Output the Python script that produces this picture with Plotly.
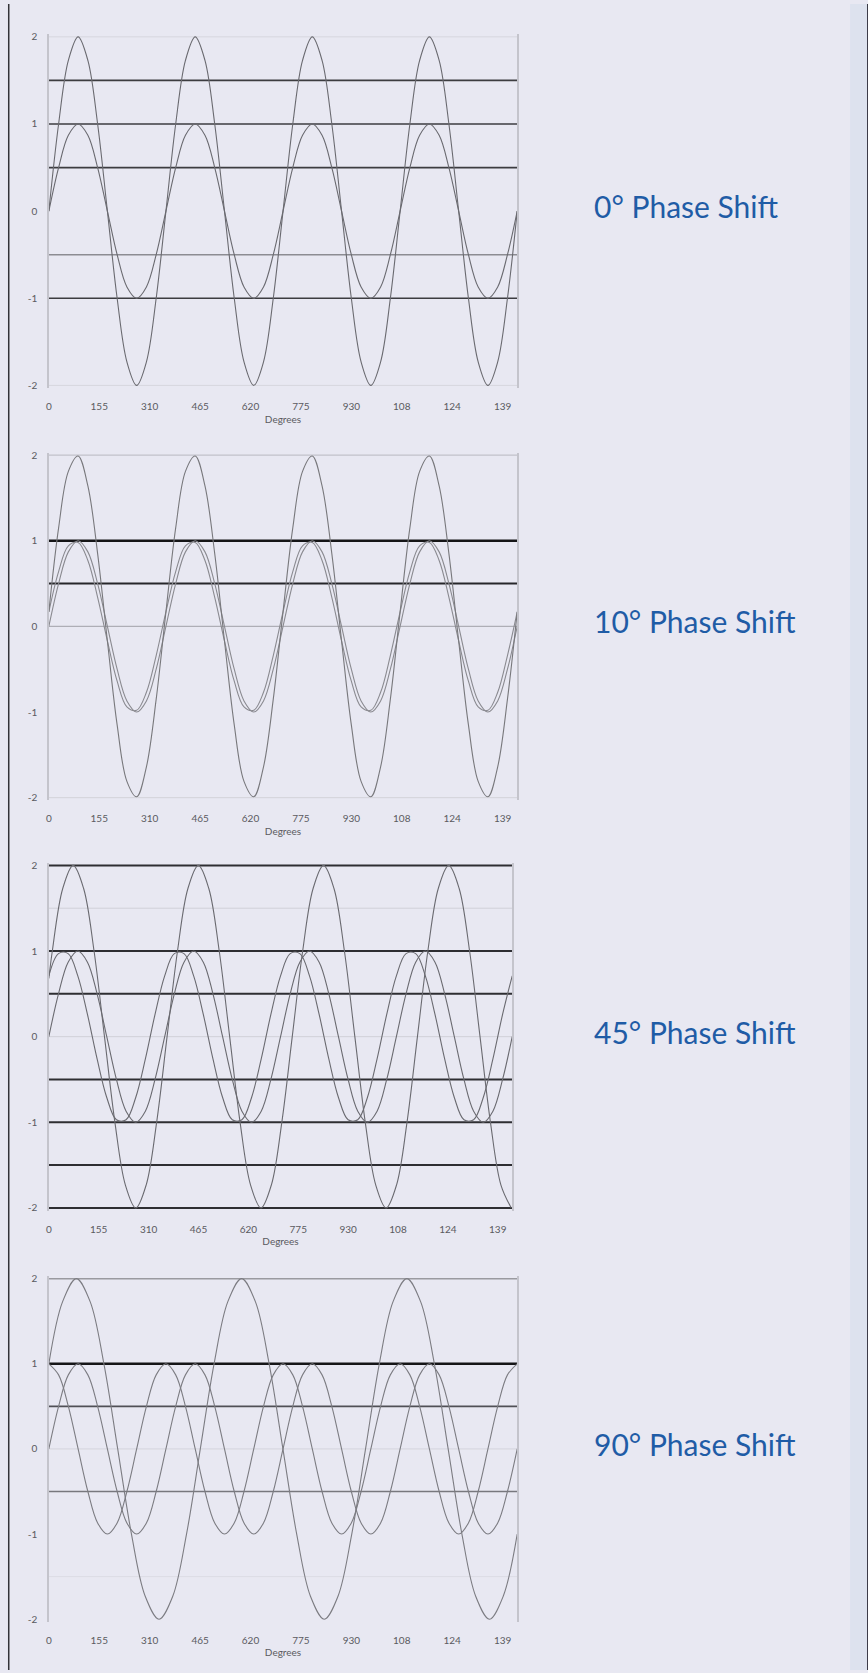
import plotly.graph_objects as go

W, H = 868, 1673

# ---------------- data ----------------
X_TICKS = [0, 155, 310, 465, 620, 775, 930, 1085, 1240, 1395]
X_TICK_TEXT = ["0", "155", "310", "465", "620", "775", "930", "108", "124", "139"]
Y_TICKS = [-2, -1, 0, 1, 2]
Y_TICK_TEXT = ["-2", "-1", "0", "1", "2"]

LABELS = ["0° Phase Shift", "10° Phase Shift", "45° Phase Shift", "90° Phase Shift"]

# sample positions (degrees) for the regular 360° waves
X30 = [0, 30, 60, 90, 120, 150, 180, 210, 240, 270, 300, 330,
       360, 390, 420, 450, 480, 510, 540, 570, 600, 630, 660, 690,
       720, 750, 780, 810, 840, 870, 900, 930, 960, 990, 1020, 1050,
       1080, 1110, 1140, 1170, 1200, 1230, 1260, 1290, 1320, 1350, 1380, 1410,
       1440]

# unit sine, 0° phase
WAVE_0 = [0, .5, .87, 1, .87, .5, 0, -.5, -.87, -1, -.87, -.5,
          0, .5, .87, 1, .87, .5, 0, -.5, -.87, -1, -.87, -.5,
          0, .5, .87, 1, .87, .5, 0, -.5, -.87, -1, -.87, -.5,
          0, .5, .87, 1, .87, .5, 0, -.5, -.87, -1, -.87, -.5,
          0]
# sum wave for 0° shift (amplitude 2)
SUM_0 = [0, 1, 1.73, 2, 1.73, 1, 0, -1, -1.73, -2, -1.73, -1,
         0, 1, 1.73, 2, 1.73, 1, 0, -1, -1.73, -2, -1.73, -1,
         0, 1, 1.73, 2, 1.73, 1, 0, -1, -1.73, -2, -1.73, -1,
         0, 1, 1.73, 2, 1.73, 1, 0, -1, -1.73, -2, -1.73, -1,
         0]
# unit sine shifted 10°
WAVE_10 = [.17, .64, .94, .98, .77, .34, -.17, -.64, -.94, -.98, -.77, -.34,
           .17, .64, .94, .98, .77, .34, -.17, -.64, -.94, -.98, -.77, -.34,
           .17, .64, .94, .98, .77, .34, -.17, -.64, -.94, -.98, -.77, -.34,
           .17, .64, .94, .98, .77, .34, -.17, -.64, -.94, -.98, -.77, -.34,
           .17]
# sum wave for 10° shift
SUM_10 = [.17, 1.15, 1.81, 1.99, 1.64, .85, -.17, -1.15, -1.81, -1.99, -1.64, -.85,
          .17, 1.15, 1.81, 1.99, 1.64, .85, -.17, -1.15, -1.81, -1.99, -1.64, -.85,
          .17, 1.15, 1.81, 1.99, 1.64, .85, -.17, -1.15, -1.81, -1.99, -1.64, -.85,
          .17, 1.15, 1.81, 1.99, 1.64, .85, -.17, -1.15, -1.81, -1.99, -1.64, -.85,
          .17]
# unit sine shifted 45°
WAVE_45 = [.71, .97, .97, .71, .26, -.26, -.71, -.97, -.97, -.71, -.26, .26,
           .71, .97, .97, .71, .26, -.26, -.71, -.97, -.97, -.71, -.26, .26,
           .71, .97, .97, .71, .26, -.26, -.71, -.97, -.97, -.71, -.26, .26,
           .71, .97, .97, .71, .26, -.26, -.71, -.97, -.97, -.71, -.26, .26,
           .71]
# sum wave drawn in the 45° panel
SUM_45_X = [0, 10.8, 43.2, 75.6, 108.1, 140.5, 172.9, 205.3, 237.7, 270.1, 302.6, 335, 367.4,
            399.8, 432.2, 464.6, 497.1, 529.5, 561.9, 594.3, 626.7, 659.1, 691.6, 724, 756.4,
            788.8, 821.2, 853.6, 886.1, 918.5, 950.9, 983.3, 1015.7, 1048.1, 1080.6, 1113, 1145.4,
            1177.8, 1210.2, 1242.6, 1275.1, 1307.5, 1339.9, 1372.3, 1404.7, 1437.1]
SUM_45_Y = [.68, 1, 1.73, 2, 1.73, 1, 0, -1, -1.73, -2, -1.73, -1, 0,
            1, 1.73, 2, 1.73, 1, 0, -1, -1.73, -2, -1.73, -1, 0,
            1, 1.73, 2, 1.73, 1, 0, -1, -1.73, -2, -1.73, -1, 0,
            1, 1.73, 2, 1.73, 1, 0, -1, -1.73, -2]
# unit sine shifted 90°
WAVE_90 = [1, .87, .5, 0, -.5, -.87, -1, -.87, -.5, 0, .5, .87,
           1, .87, .5, 0, -.5, -.87, -1, -.87, -.5, 0, .5, .87,
           1, .87, .5, 0, -.5, -.87, -1, -.87, -.5, 0, .5, .87,
           1, .87, .5, 0, -.5, -.87, -1, -.87, -.5, 0, .5, .87,
           1]
# sum wave drawn in the 90° panel
SUM_90_X = [0, 42.3, 84.7, 127, 169.3, 211.7, 254, 296.3, 338.7, 381, 423.3, 465.7,
            508, 550.3, 592.7, 635, 677.3, 719.7, 762, 804.3, 846.7, 889, 931.3, 973.7,
            1016, 1058.3, 1100.7, 1143, 1185.3, 1227.7, 1270, 1312.3, 1354.7, 1397, 1440]
SUM_90_Y = [1, 1.73, 2, 1.73, 1, 0, -1, -1.73, -2, -1.73, -1, 0,
            1, 1.73, 2, 1.73, 1, 0, -1, -1.73, -2, -1.73, -1, 0,
            1, 1.73, 2, 1.73, 1, 0, -1, -1.73, -2, -1.73, -1]

# horizontal reference levels per panel
LEVELS_0 = [2, 1.5, 1, 0.5, -0.5, -1, -2]
LEVELS_10 = [2, 1, 0.5, 0, -2]
LEVELS_45 = [2, 1.5, 1, 0.5, 0, -0.5, -1, -1.5, -2]
LEVELS_90 = [2, 1, 0.5, 0, -0.5, -1.5]

# ---------------- styling ----------------
BG = "#e8e8f2"
CURVE = "#6a6a70"
LEVEL_STYLE_0 = [("#d6d6de", 1), ("#3c3c40", 1.7), ("#3c3c40", 1.7), ("#3c3c40", 1.7),
                 ("#8c8c92", 1.4), ("#3c3c40", 1.7), ("#d6d6de", 1)]
LEVEL_STYLE_10 = [("#c2c2ca", 1.2), ("#151517", 2.3), ("#26262a", 2), ("#aeaeb6", 1.2), ("#d2d2da", 1)]
LEVEL_STYLE_45 = [("#2e2e32", 2), ("#d0d0d8", 1), ("#2e2e32", 2), ("#2e2e32", 2), ("#d0d0d8", 1),
                  ("#2e2e32", 2), ("#2e2e32", 2), ("#2e2e32", 2), ("#2e2e32", 2)]
LEVEL_STYLE_90 = [("#9a9aa0", 1.5), ("#151517", 2.5), ("#505056", 1.8), ("#d4d4dc", 1),
                  ("#78787e", 1.5), ("#dcdce4", 1)]

panels = [
    dict(box=(46, 516, 33, 383), levels=LEVELS_0, lstyle=LEVEL_STYLE_0,
         curves=[(X30, WAVE_0, CURVE), (X30, SUM_0, CURVE)]),
    dict(box=(46, 516, 453, 797), levels=LEVELS_10, lstyle=LEVEL_STYLE_10,
         curves=[(X30, WAVE_0, "#8a8a90"), (X30, WAVE_10, "#8a8a90"), (X30, SUM_10, "#78787c")]),
    dict(box=(46, 511, 865, 1209), levels=LEVELS_45, lstyle=LEVEL_STYLE_45,
         curves=[(X30, WAVE_0, CURVE), (X30, WAVE_45, CURVE), (SUM_45_X, SUM_45_Y, CURVE)]),
    dict(box=(46, 516, 1280, 1622), levels=LEVELS_90, lstyle=LEVEL_STYLE_90,
         curves=[(X30, WAVE_0, "#7c7c82"), (X30, WAVE_90, "#7c7c82"), (SUM_90_X, SUM_90_Y, "#7c7c82")]),
]

PAD = 0.03
fig = go.Figure()
layout = dict(
    width=W, height=H, margin=dict(l=0, r=0, t=0, b=0),
    paper_bgcolor=BG, plot_bgcolor=BG, showlegend=False, hovermode=False,
    shapes=[], annotations=[],
)

tick_font = dict(family="Lato, DejaVu Sans, sans-serif", size=10, color="#5a5a60")

for i, p in enumerate(panels):
    n = "" if i == 0 else str(i + 1)
    xref, yref = "x" + n, "y" + n
    l, r, t, b = p["box"]
    unit = (b - t) / 4.0
    top_px = t - PAD * unit
    bot_px = b + PAD * unit

    for lv, (col, wd) in zip(p["levels"], p["lstyle"]):
        fig.add_trace(go.Scatter(x=[0, 1440], y=[lv, lv], mode="lines",
                                 line=dict(color=col, width=wd),
                                 xaxis=xref, yaxis=yref, hoverinfo="skip"))
    for xs, ys, col in p["curves"]:
        fig.add_trace(go.Scatter(x=xs, y=ys, mode="lines",
                                 line=dict(color=col, width=1.1, shape="spline", smoothing=1.0),
                                 xaxis=xref, yaxis=yref, hoverinfo="skip"))

    layout["xaxis" + n] = dict(
        domain=[l / W, r / W], range=[0, 1440], anchor=yref,
        tickmode="array", tickvals=X_TICKS, ticktext=X_TICK_TEXT,
        showgrid=False, zeroline=False, showline=False, ticks="",
        tickfont=tick_font, ticklabelstandoff=11,
        title=dict(text="Degrees", font=dict(family="Lato, DejaVu Sans, sans-serif", size=10, color="#5a5a60"), standoff=4),
    )
    layout["yaxis" + n] = dict(
        domain=[1 - bot_px / H, 1 - top_px / H], range=[-2 - PAD, 2 + PAD], anchor=xref,
        tickmode="array", tickvals=Y_TICKS, ticktext=Y_TICK_TEXT,
        showgrid=False, zeroline=False, showline=True, mirror=True,
        linecolor="#c4c4cc", linewidth=1.5, ticks="",
        tickfont=tick_font, ticklabelstandoff=8,
    )
    layout["annotations"].append(dict(
        xref="paper", yref="paper", x=591 / W, y=1 - ((t + b) / 2 - 5) / H,
        xanchor="left", yanchor="middle", showarrow=False, text=LABELS[i],
        font=dict(family="Lato, Open Sans, sans-serif", size=30, color="#1f5ca6"),
    ))

layout["shapes"] = [
    dict(type="rect", xref="paper", yref="paper", x0=850 / W, x1=867 / W, y0=0, y1=1,
         fillcolor="#dde2ee", line=dict(width=0), layer="below"),
    dict(type="rect", xref="paper", yref="paper", x0=867 / W, x1=1, y0=0, y1=1,
         fillcolor="#3c3c48", line=dict(width=0), layer="above"),
    dict(type="rect", xref="paper", yref="paper", x0=5 / W, x1=6.5 / W, y0=0, y1=1,
         fillcolor="#333338", line=dict(width=0), layer="above"),
]

fig.update_layout(**layout)
fig.write_html(
    "out.html",
    config={"displayModeBar": False, "staticPlot": True},
    post_script="document.body.style.margin='0';document.body.style.overflow='hidden';",
)
